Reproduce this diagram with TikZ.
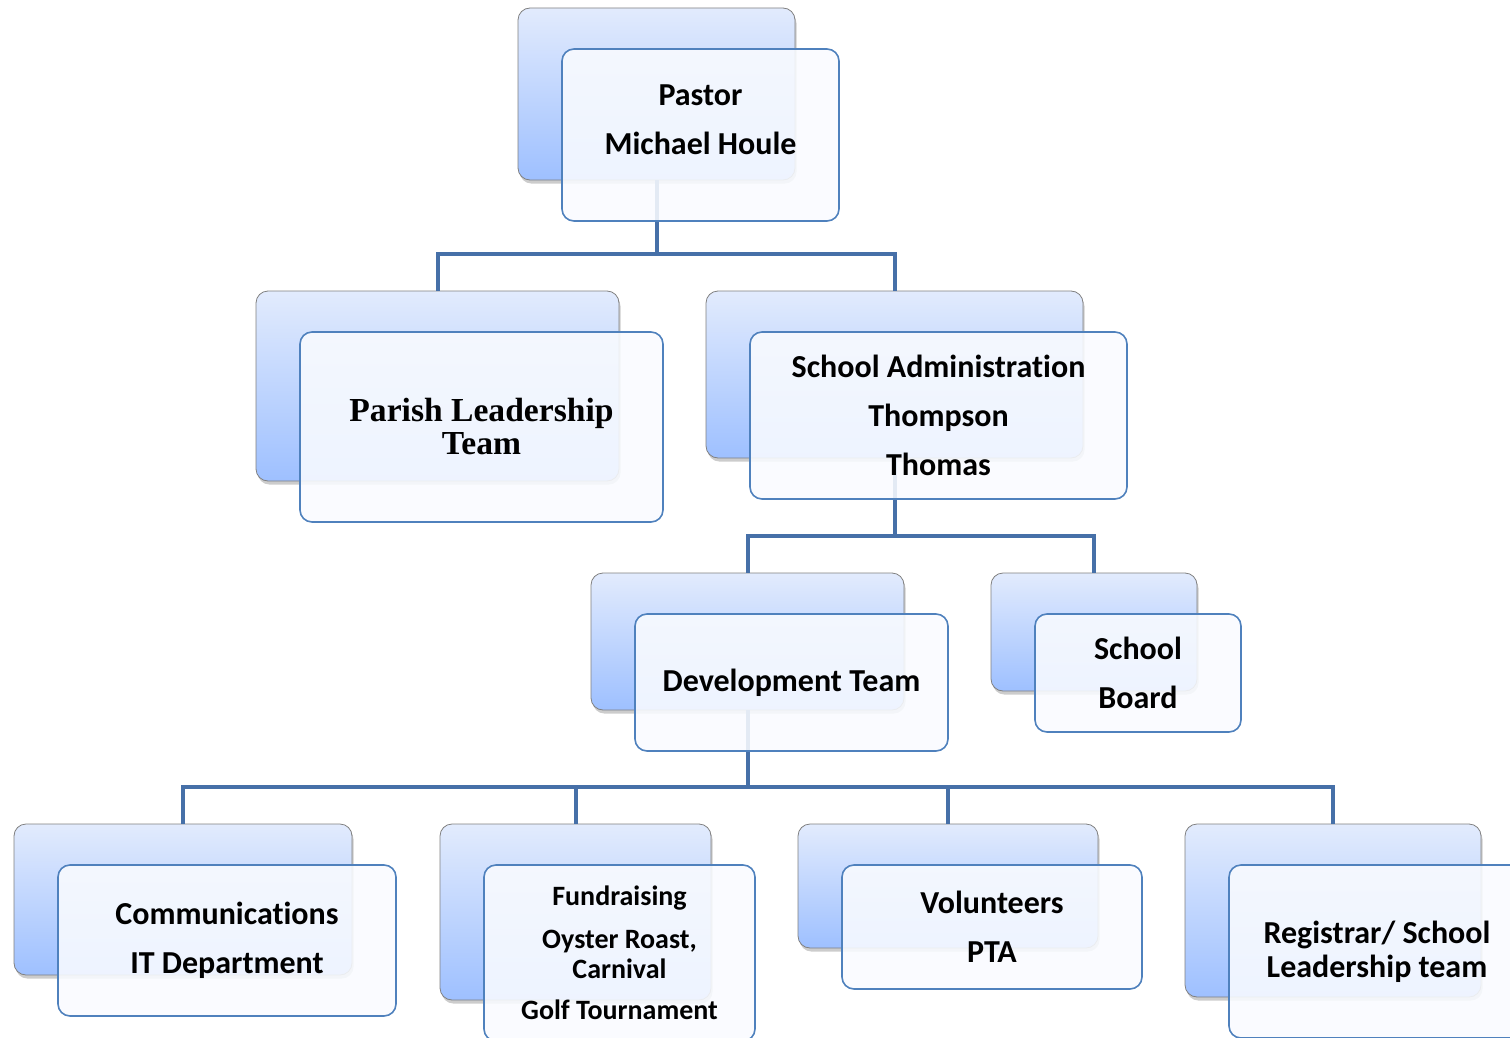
\documentclass[tikz,border=0pt]{standalone}
\usepackage{fontspec}
\setmainfont{Carlito}[Ligatures={NoCommon,NoRequired,NoContextual}, RawFeature={-liga;-clig;-calt;-dlig;-rlig;-ccmp}]
\newfontfamily\parishfont{Liberation Serif}
\usetikzlibrary{positioning,shadows}

\definecolor{backtop}{RGB}{226,235,253}
\definecolor{backbot}{RGB}{158,192,255}
\definecolor{frontfill}{RGB}{249,251,255}
\definecolor{frontline}{RGB}{79,129,189}
\definecolor{linkblue}{RGB}{70,112,168}

\begin{document}
\begin{tikzpicture}[
	x=0.5pt, y=-0.5pt,
	link/.style={line width=2pt, draw=linkblue},
	boxsize/.style 2 args={minimum width=#1, minimum height=#2}]

\tikzstyle{back} = [
    rounded corners = 6pt,
    draw = gray,
    top color = backtop,
    bottom color = backbot,
    drop shadow = {shadow xshift=0.8pt, shadow yshift=-1.8pt, opacity=0.4}
]
\tikzstyle{front} = [
    rounded corners = 6pt,
    draw = frontline,
    line width = 0.8pt,
    fill = frontfill,
    fill opacity = 0.88,
    text opacity = 1,
    align = center,
    font = \bfseries\fontsize{16}{24.5}\selectfont
]

\useasboundingbox (0,0) rectangle (1510,1038);

% back boxes
\node [back, boxsize={138.5pt}{86pt}] (pastor) at (656.5,94) {};
\node [back, boxsize={181.5pt}{95pt}] (parish) at (437.5,386) {};
\node [back, boxsize={188.5pt}{83.5pt}] (school) at (894.5,374.5) {};
\node [back, boxsize={156.5pt}{68.5pt}] (devel) at (747.5,641.5) {};
\node [back, boxsize={103pt}{59pt}] (board) at (1094,632) {};
\node [back, boxsize={169pt}{75.5pt}] (comms) at (183,899.5) {};
\node [back, boxsize={135.5pt}{88pt}] (funds) at (575.5,912) {};
\node [back, boxsize={150pt}{62pt}] (volun) at (948,886) {};
\node [back, boxsize={148pt}{86.5pt}] (regis) at (1333,910.5) {};

% connectors
\foreach \kid in {parish,school}
    \draw [link] (pastor.south) -- ++(0,74) -| (\kid.north);
\foreach \kid in {devel,board}
    \draw [link] (school.south) -- ++(0,78) -| (\kid.north);
\foreach \kid in {comms,funds,volun,regis}
    \draw [link] (devel.south) -- ++(0,77) -| (\kid.north);

% front boxes
\node [front, boxsize={138.5pt}{86pt}, text depth=15pt] (pastor-f)
    at ([shift={(44,41)}]pastor.center) {Pastor\\Michael Houle};
\node [front, boxsize={181.5pt}{95pt},
    font=\parishfont\bfseries\fontsize{16.8}{16.5}\selectfont] (parish-f)
    at ([shift={(44,41)}]parish.center) {Parish Leadership\\Team};
\node [front, boxsize={188.5pt}{83.5pt}] (school-f)
    at ([shift={(44,41)}]school.center) {School Administration\\Thompson\\Thomas};
\node [front, boxsize={156.5pt}{68.5pt}] (devel-f)
    at ([shift={(44,41)}]devel.center) {Development Team};
\node [front, boxsize={103pt}{59pt}] (board-f)
    at ([shift={(44,41)}]board.center) {School\\Board};
\node [front, boxsize={169pt}{75.5pt}] (comms-f)
    at ([shift={(44,41)}]comms.center) {Communications\\IT Department};
\node [front, boxsize={135.5pt}{88pt},
    font=\bfseries\fontsize{14}{15.25}\selectfont] (funds-f)
    at ([shift={(44,41)}]funds.center)
    {Fundraising\\[6.25pt]Oyster Roast,\\Carnival\\[5.25pt]Golf Tournament};
\node [front, boxsize={150pt}{62pt}] (volun-f)
    at ([shift={(44,41)}]volun.center) {Volunteers\\PTA};
\node [front, boxsize={148pt}{86.5pt},
    font=\bfseries\fontsize{16}{17}\selectfont] (regis-f)
    at ([shift={(44,41)}]regis.center) {Registrar/ School\\Leadership team};
\end{tikzpicture}
\end{document}
